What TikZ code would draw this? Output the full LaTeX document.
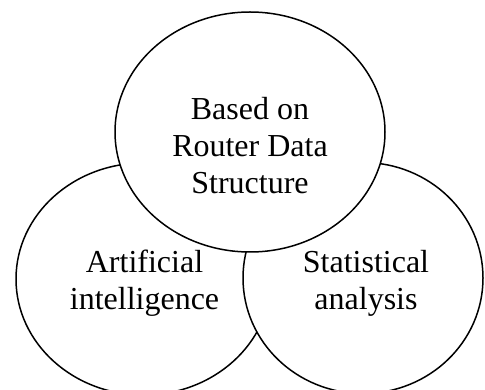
\documentclass[tikz,border=0pt]{standalone}
\usepackage{fontspec}
\setmainfont{Liberation Serif}
\usetikzlibrary{shapes.geometric}
\begin{document}
\begin{tikzpicture}[x=1pt,y=-1pt,
  bubble/.style={ellipse,draw=black,line width=1.5pt,fill=white,inner sep=0pt},
  lbl/.style={font=\fontsize{32}{37}\selectfont,align=center,inner sep=0pt,anchor=base}]
\path[use as bounding box] (0,0) rectangle (485,390);
\clip (0,0) rectangle (485,390);
% three overlapping ellipses, the top one drawn last
\node[bubble,minimum width=255pt,minimum height=232pt] (ai) at (143.5,279) {};
\node[bubble,minimum width=240pt,minimum height=231pt] (stat) at (363,278) {};
\node[bubble,minimum width=270pt,minimum height=240pt] (router) at (250,132) {};
% labels (anchored at the baseline of the last line)
\node[lbl] (routertext) at (250,194) {Based on\\Router Data\\Structure};
\node[lbl] (aitext) at (144.5,310) {Artificial\\intelligence};
\node[lbl] (stattext) at (366,310) {Statistical\\analysis};
\end{tikzpicture}
\end{document}
